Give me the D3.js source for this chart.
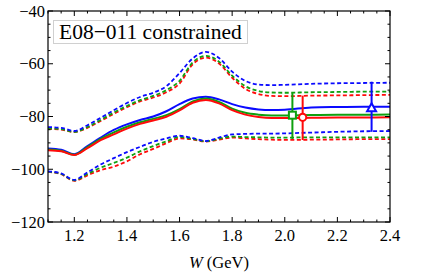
<!DOCTYPE html>
<html><head><meta charset="utf-8">
<script src="https://cdn.jsdelivr.net/npm/d3@7"></script>
<style>body{margin:0;background:#fff}svg{display:block}</style>
</head><body>
<svg id="c" width="443" height="276"></svg>
<script>
const W = [1.10,1.15,1.20,1.25,1.30,1.35,1.40,1.45,1.50,1.55,1.60,1.65,1.70,1.75,1.80,1.85,1.90,1.95,2.00,2.10,2.20,2.30,2.40];
const blueMid = [-92.1,-92.6,-94.3,-91.2,-88.0,-85.1,-83.0,-81.3,-80.0,-78.0,-75.3,-73.2,-72.5,-73.5,-75.3,-76.6,-77.3,-77.5,-77.4,-76.6,-76.4,-76.3,-76.3];
const greenMid = [-92.5,-93.0,-94.5,-91.6,-88.5,-86.0,-83.9,-82.2,-80.9,-79.5,-77.2,-74.3,-73.2,-74.5,-77.0,-78.6,-79.3,-79.6,-79.6,-79.4,-79.3,-79.3,-79.2];
const redMid = [-92.8,-93.2,-94.6,-92.0,-89.0,-86.8,-84.6,-82.8,-81.5,-80.1,-77.7,-74.8,-73.7,-75.0,-77.6,-79.3,-80.2,-80.6,-80.6,-80.5,-80.4,-80.4,-80.3];
const blueUp = [-84.0,-84.3,-85.5,-83.3,-80.5,-77.6,-74.9,-72.6,-71.0,-68.5,-63.5,-58.0,-55.5,-57.8,-63.0,-66.5,-67.9,-68.1,-68.0,-67.6,-67.4,-67.3,-67.2];
const greenUp = [-84.5,-84.8,-85.8,-84.0,-81.3,-78.5,-76.0,-73.8,-72.2,-70.0,-66.5,-59.5,-57.0,-59.2,-64.5,-68.5,-70.3,-70.9,-71.0,-70.8,-70.7,-70.6,-70.6];
const redUp = [-84.7,-85.0,-85.9,-84.3,-81.7,-79.0,-76.5,-74.3,-72.8,-70.8,-67.5,-60.2,-57.7,-59.9,-65.3,-69.5,-71.5,-72.2,-72.3,-72.1,-72.0,-71.9,-71.8];
const blueLow = [-100.8,-101.6,-104.0,-101.2,-98.2,-95.8,-93.5,-91.5,-89.6,-88.3,-87.3,-88.2,-89.3,-88.0,-86.8,-86.6,-86.5,-86.5,-86.4,-86.1,-85.8,-85.6,-85.5];
const greenLow = [-100.9,-101.8,-104.2,-101.8,-99.4,-97.6,-95.6,-93.2,-91.2,-89.4,-87.8,-88.5,-89.4,-88.4,-87.6,-87.8,-87.9,-88.0,-88.0,-87.9,-87.9,-87.9,-87.9];
const redLow = [-101.0,-101.9,-104.4,-102.3,-100.3,-99.0,-97.0,-94.3,-92.3,-90.1,-88.3,-88.7,-89.5,-88.8,-88.0,-88.3,-88.6,-88.8,-88.9,-88.8,-88.7,-88.6,-88.6];

// data points
const pointW = [2.029, 2.068, 2.33];
const pointV = [-79.5, -80.3, -76.9];
const pointLo = [-88.5, -88.9, -85.8];
const pointHi = [-71.0, -72.1, -66.8];
const pointShape = ["square", "circle", "triangle"];

const xTicks = [1.2,1.4,1.6,1.8,2.0,2.2,2.4];
const yTicks = [-40,-60,-80,-100,-120];
const label = "E08\u2212011 constrained";
const xTitleItalic = "W";
const xTitleRest = " (GeV)";

const colors = {blue:"#0a0aff", green:"#0fa00f", red:"#ff0a0a"};

const svg = d3.select("#c");
const L=48, R=390, T=11, B=222;
const x = d3.scaleLinear().domain([1.1,2.4]).range([L,R]);
const y = d3.scaleLinear().domain([-120,-40]).range([B,T]);

const line = d3.line().x((d,i)=>x(W[i])).y(d=>y(d)).curve(d3.curveMonotoneX);

const series = [
  [redLow,"red",true],[greenLow,"green",true],[blueLow,"blue",true],
  [redUp,"red",true],[greenUp,"green",true],[blueUp,"blue",true],
  [blueMid,"blue",false],[greenMid,"green",false],[redMid,"red",false]
];
const g = svg.append("g");
g.append("defs").append("clipPath").attr("id","clip").append("rect")
  .attr("x",L).attr("y",T).attr("width",R-L).attr("height",B-T);
const plot = g.append("g").attr("clip-path","url(#clip)");
series.forEach(([data,c,dashed])=>{
  plot.append("path").attr("d",line(data)).attr("fill","none")
    .attr("stroke",colors[c]).attr("stroke-width",dashed?1.8:2)
    .attr("stroke-dasharray",dashed?"4,2.5":null);
});

// label box
svg.append("rect").attr("x",53.5).attr("y",20.5).attr("width",194).attr("height",23)
  .attr("fill","#fff").attr("stroke","#d0d0d0").attr("stroke-width",1);
svg.append("text").attr("x",59).attr("y",39).attr("font-family","Liberation Serif")
  .attr("font-size",21.5).attr("fill","#000").text(label);

// data points
const pc = ["green","red","blue"];
pointW.forEach((w,i)=>{
  const c = colors[pc[i]];
  const px = x(w), py = y(pointV[i]);
  svg.append("line").attr("x1",px).attr("x2",px).attr("y1",y(pointLo[i])).attr("y2",y(pointHi[i]))
    .attr("stroke",c).attr("stroke-width",2);
  if (pointShape[i]==="square") {
    svg.append("rect").attr("x",px-3.5).attr("y",py-3.5).attr("width",7).attr("height",7)
      .attr("fill","#fff").attr("stroke",c).attr("stroke-width",2);
  } else if (pointShape[i]==="circle") {
    svg.append("circle").attr("cx",px).attr("cy",py).attr("r",3.6)
      .attr("fill","#fff").attr("stroke",c).attr("stroke-width",2);
  } else {
    svg.append("path").attr("d",`M${px},${py-5}L${px+4.5},${py+3}L${px-4.5},${py+3}Z`)
      .attr("fill","#fff").attr("stroke",c).attr("stroke-width",2);
  }
});

// frame
svg.append("rect").attr("x",L).attr("y",T).attr("width",R-L).attr("height",B-T)
  .attr("fill","none").attr("stroke","#000").attr("stroke-width",1.2);

// ticks
const tk = svg.append("g").attr("stroke","#000").attr("stroke-width",1);
d3.range(1.1,2.4001,0.05).forEach(v=>{
  const major = Math.abs(Math.round(v*10)/10 - v) < 1e-6 && Math.round(v*10)%2===0;
  const len = major?5:2.5;
  const xx = x(v);
  tk.append("line").attr("x1",xx).attr("x2",xx).attr("y1",B).attr("y2",B-len);
  tk.append("line").attr("x1",xx).attr("x2",xx).attr("y1",T).attr("y2",T+len);
});
d3.range(-120,-39.99,5).forEach(v=>{
  const major = v%20===0;
  const len = major?5:2.5;
  const yy = y(v);
  tk.append("line").attr("x1",L).attr("x2",L+len).attr("y1",yy).attr("y2",yy);
  tk.append("line").attr("x1",R).attr("x2",R-len).attr("y1",yy).attr("y2",yy);
});

// tick labels
const fam = "Liberation Serif";
xTicks.forEach(v=>{
  svg.append("text").attr("x",x(v)).attr("y",B+19).attr("text-anchor","middle")
    .attr("font-family",fam).attr("font-size",16.5).text(d3.format(".1f")(v));
});
yTicks.forEach(v=>{
  svg.append("text").attr("x",L-3).attr("y",y(v)+5.5).attr("text-anchor","end")
    .attr("font-family",fam).attr("font-size",16.5).text(String(v).replace("-","\u2212"));
});
const xt = svg.append("text").attr("x",(L+R)/2).attr("y",268).attr("text-anchor","middle")
  .attr("font-family",fam).attr("font-size",16.5);
xt.append("tspan").attr("font-style","italic").text(xTitleItalic);
xt.append("tspan").text(xTitleRest);
</script>
</body></html>
